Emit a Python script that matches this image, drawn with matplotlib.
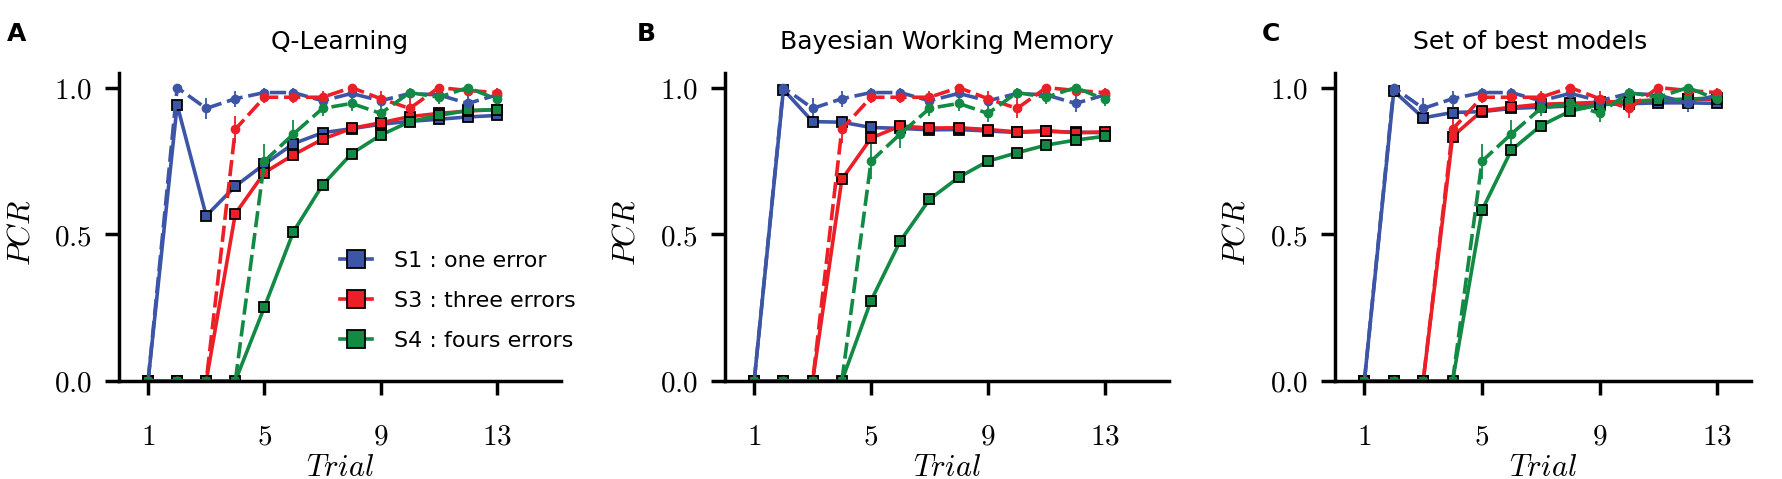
import matplotlib
matplotlib.use("Agg")
import matplotlib.pyplot as plt
import numpy as np

plt.rcParams['font.family'] = 'DejaVu Sans'
plt.rcParams['mathtext.fontset'] = 'cm'

trials = np.arange(1, 14)

# human data (dashed, same in every panel)
data_s1 = [0, 1.0, 0.929, 0.962, 0.983, 0.983, 0.955, 0.98, 0.955, 0.98, 0.975, 0.946, 0.975]
data_s3 = [0, 0, 0, 0.858, 0.967, 0.967, 0.967, 1.0, 0.962, 0.929, 1.0, 0.99, 0.983]
data_s4 = [0, 0, 0, 0, 0.749, 0.842, 0.929, 0.946, 0.912, 0.983, 0.967, 1.0, 0.96]
err_s1 = [0, 0, 0.035, 0.027, 0.016, 0.016, 0.02, 0.016, 0.02, 0.016, 0.02, 0.03, 0.02]
err_s3 = [0, 0, 0, 0.046, 0.02, 0.02, 0.02, 0, 0.025, 0.034, 0, 0.01, 0.015]
err_s4 = [0, 0, 0, 0, 0.059, 0.048, 0.026, 0.026, 0.03, 0.016, 0.022, 0, 0.023]

# model predictions (solid squares)
ql_s1 = [0, 0.941, 0.563, 0.664, 0.739, 0.809, 0.846, 0.86, 0.875, 0.885, 0.892, 0.90, 0.905]
ql_s3 = [0, 0, 0, 0.570, 0.710, 0.771, 0.824, 0.861, 0.880, 0.901, 0.912, 0.92, 0.925]
ql_s4 = [0, 0, 0, 0, 0.252, 0.509, 0.668, 0.775, 0.838, 0.884, 0.905, 0.922, 0.925]

bwm_s1 = [0, 0.993, 0.884, 0.882, 0.864, 0.861, 0.856, 0.857, 0.852, 0.847, 0.851, 0.848, 0.846]
bwm_s3 = [0, 0, 0, 0.687, 0.828, 0.869, 0.862, 0.863, 0.857, 0.849, 0.853, 0.846, 0.849]
bwm_s4 = [0, 0, 0, 0, 0.274, 0.477, 0.619, 0.694, 0.749, 0.778, 0.804, 0.821, 0.834]

best_s1 = [0, 0.988, 0.897, 0.915, 0.918, 0.929, 0.933, 0.937, 0.942, 0.945, 0.948, 0.948, 0.946]
best_s3 = [0, 0, 0, 0.833, 0.921, 0.933, 0.943, 0.946, 0.95, 0.954, 0.957, 0.96, 0.96]
best_s4 = [0, 0, 0, 0, 0.582, 0.787, 0.87, 0.92, 0.941, 0.952, 0.958, 0.96, 0.966]

titles = ["Q-Learning", "Bayesian Working Memory", "Set of best models"]
letters = ["A", "B", "C"]
labels = ["S1 : one error", "S3 : three errors", "S4 : fours errors"]
colors = ['#3D55A6', '#EC1F26', '#128A44']

models = [[ql_s1, ql_s3, ql_s4], [bwm_s1, bwm_s3, bwm_s4], [best_s1, best_s3, best_s4]]
datas = [data_s1, data_s3, data_s4]
errs = [err_s1, err_s3, err_s4]

W, H = 1783, 479
fig = plt.figure(figsize=(W / 100, H / 100), dpi=100)

# axes boxes in pixels: left, right, xmax ; letter / title x positions
boxes = [(119, 561, 15.2), (725, 1169, 15.2), (1335, 1751, 14.15)]
letter_x = [17, 646, 1271]
title_x = [340, 947, 1530]
bottom, top = 381, 72.9

for i, (l, r, xmax) in enumerate(boxes):
    ax = fig.add_axes([l / W, (H - bottom) / H, (r - l) / W, (bottom - top) / H])
    for c, d, e in zip(colors, datas, errs):
        ax.errorbar(trials, d, yerr=e, color=c, lw=2.6, dashes=[4.5, 1.6],
                    marker='o', ms=7, mew=0, elinewidth=1.3, capsize=4, capthick=1.3)
    for c, m, lab in zip(colors, models[i], labels):
        ax.plot(trials, m, color=c, lw=2.6, marker='s', ms=6.5, mfc=c, mec='black',
                mew=1.3, label=lab)
    ax.set_xlim(0, xmax)
    ax.set_ylim(0, 1.05)
    ax.set_xticks([1, 5, 9, 13], labels=['$1$', '$5$', '$9$', '$13$'])
    ax.set_yticks([0, 0.5, 1.0], labels=['$0.0$', '$0.5$', '$1.0$'])
    ax.tick_params(width=2.5, length=10, labelsize=21, pad=9.5)
    ax.tick_params(axis='x', pad=20)
    for s in ['top', 'right']:
        ax.spines[s].set_visible(False)
    for s in ['left', 'bottom']:
        ax.spines[s].set_linewidth(2.5)
    ax.set_xlabel('$Trial$', fontsize=22)
    ax.set_ylabel('$PCR$', fontsize=22)
    ax.xaxis.set_label_coords(0.5, -0.235)
    ax.yaxis.set_label_coords(-84 / (r - l), 0.48)
    fig.text(title_x[i] / W, 1 - 42 / H, titles[i], fontsize=18, ha='center', va='center')
    fig.text(letter_x[i] / W, 1 - 34 / H, letters[i], fontsize=18, fontweight='bold',
             ha='center', va='center')
    if i == 0:
        ax.legend(loc='center left', bbox_to_anchor=(0.5, 0.26), frameon=False,
                  fontsize=16, markerscale=2.0, handlelength=1.45, handletextpad=1.0,
                  labelspacing=0.9, borderpad=0, borderaxespad=0)

fig.savefig('out.png', dpi=100)
